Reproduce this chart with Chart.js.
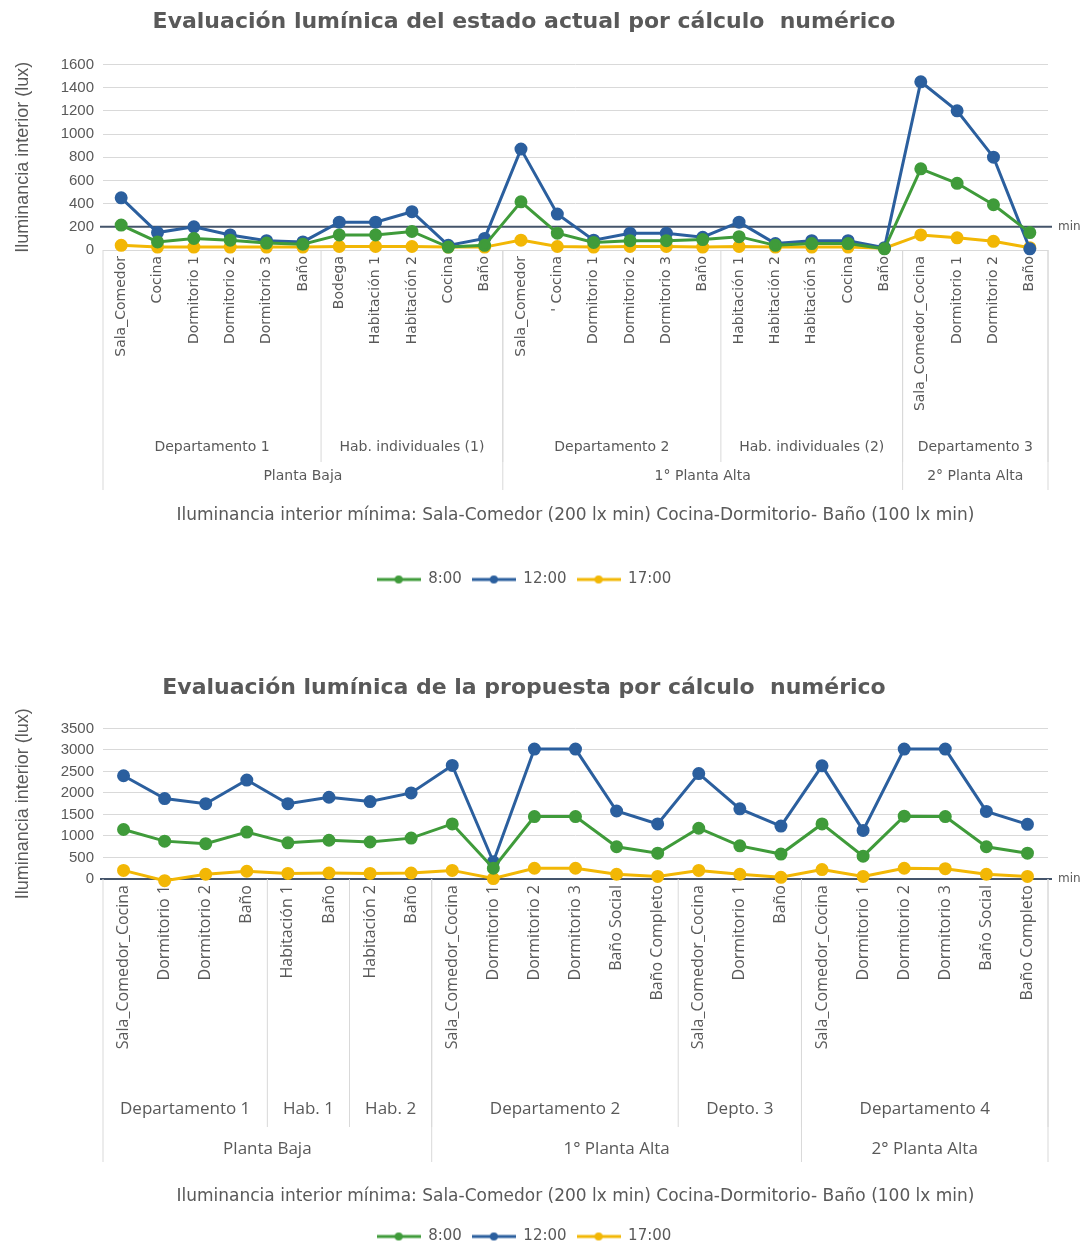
<!DOCTYPE html>
<html>
<head>
<meta charset="utf-8">
<script src="https://cdn.jsdelivr.net/npm/chart.js@4/dist/chart.umd.min.js"></script>
<style>
  body { margin: 0; background: #fff; }
  #wrap1 { position: absolute; left: 0; top: 0; width: 1082px; height: 610px; }
  #wrap2 { position: absolute; left: 0; top: 610px; width: 1082px; height: 644px; }
</style>
</head>
<body>
<div id="wrap1"><canvas id="chart-actual"></canvas></div>
<div id="wrap2"><canvas id="chart-propuesta"></canvas></div>
<script>
// ---- Grafico 1: estado actual ----
const rooms1 = ['Sala_Comedor', 'Cocina', 'Dormitorio 1', 'Dormitorio 2', 'Dormitorio 3', 'Baño',
    'Bodega', 'Habitación 1', 'Habitación 2', 'Cocina', 'Baño',
    'Sala_Comedor', '\' Cocina', 'Dormitorio 1', 'Dormitorio 2', 'Dormitorio 3', 'Baño',
    'Habitación 1', 'Habitación 2', 'Habitación 3', 'Cocina', 'Baño',
    'Sala_Comedor_Cocina', 'Dormitorio 1', 'Dormitorio 2', 'Baño'];
const depts1 = ['Departamento 1', 'Hab. individuales (1)', 'Departamento 2', 'Hab. individuales (2)', 'Departamento 3'];
const deptSpans1 = [6, 5, 6, 5, 4];
const floors1 = ['Planta Baja', '1° Planta Alta', '2° Planta Alta'];
const floorSpans1 = [11, 11, 4];
const lux8_1  = [215, 70, 100, 85, 60, 50, 130, 130, 160, 25, 40, 415, 145, 65, 80, 80, 90, 115, 40, 55, 55, 10, 700, 575, 390, 150];
const lux12_1 = [450, 150, 200, 130, 80, 70, 240, 240, 330, 40, 100, 870, 310, 85, 145, 145, 110, 240, 55, 80, 80, 20, 1450, 1200, 800, 10];
const lux17_1 = [40, 25, 25, 25, 25, 25, 30, 30, 30, 25, 25, 85, 30, 25, 30, 30, 25, 30, 25, 25, 25, 15, 130, 105, 75, 20];
const minLux1 = 200;

// ---- Grafico 2: propuesta ----
const rooms2 = ['Sala_Comedor_Cocina', 'Dormitorio 1', 'Dormitorio 2', 'Baño',
    'Habitación 1', 'Baño', 'Habitación 2', 'Baño',
    'Sala_Comedor_Cocina', 'Dormitorio 1', 'Dormitorio 2', 'Dormitorio 3', 'Baño Social', 'Baño Completo',
    'Sala_Comedor_Cocina', 'Dormitorio 1', 'Baño',
    'Sala_Comedor_Cocina', 'Dormitorio 1', 'Dormitorio 2', 'Dormitorio 3', 'Baño Social', 'Baño Completo'];
const depts2 = ['Departamento 1', 'Hab. 1', 'Hab. 2', 'Departamento 2', 'Depto. 3', 'Departamento 4'];
const deptSpans2 = [4, 2, 2, 6, 3, 6];
const floors2 = ['Planta Baja', '1° Planta Alta', '2° Planta Alta'];
const floorSpans2 = [8, 9, 6];
const lux8_2  = [1150, 880, 820, 1090, 840, 900, 860, 950, 1280, 250, 1450, 1450, 750, 600, 1180, 770, 580, 1280, 530, 1460, 1450, 750, 600];
const lux12_2 = [2400, 1870, 1750, 2300, 1750, 1900, 1800, 2000, 2640, 400, 3020, 3020, 1580, 1280, 2450, 1630, 1230, 2630, 1130, 3020, 3020, 1570, 1270];
const lux17_2 = [200, -40, 110, 180, 130, 140, 130, 140, 200, 10, 250, 250, 110, 60, 200, 110, 40, 220, 60, 250, 240, 110, 60];
const minLux2 = 0;

const seriesNames = ['8:00', '12:00', '17:00'];
const seriesColors = ['#3f9b3a', '#2b5f9e', '#f2b705'];
const textColor = '#595959';
const gridColor = '#d9d9d9';
const note = 'Iluminancia interior mínima: Sala-Comedor (200 lx min) Cocina-Dormitorio- Baño (100 lx min)';

// marcador de leyenda: linea con punto, como en Excel
function legendMarker(color) {
    const c = document.createElement('canvas');
    c.width = 44; c.height = 12;
    const g = c.getContext('2d');
    g.strokeStyle = color; g.lineWidth = 3;
    g.beginPath(); g.moveTo(0, 6); g.lineTo(44, 6); g.stroke();
    g.fillStyle = color;
    g.beginPath(); g.arc(22, 6, 4, 0, Math.PI * 2); g.fill();
    return c;
}

// lineas de minimo y etiquetas agrupadas del eje x
const groupAxisPlugin = {
    id: 'groupAxis',
    beforeDatasetsDraw(chart, args, opts) {
        const {ctx, chartArea} = chart;
        const y = chart.scales.y.getPixelForValue(opts.minValue);
        ctx.save();
        ctx.strokeStyle = '#44546a';
        ctx.lineWidth = 2;
        ctx.beginPath();
        ctx.moveTo(chartArea.left - 3, y);
        ctx.lineTo(chartArea.right + 4, y);
        ctx.stroke();
        ctx.fillStyle = textColor;
        ctx.font = '12px "DejaVu Sans"';
        ctx.textBaseline = 'middle';
        ctx.fillText('min', chartArea.right + 10, y);
        ctx.restore();
    },
    afterDraw(chart, args, opts) {
        const {ctx, chartArea} = chart;
        const x = chart.scales.x;
        const edge = i => i <= 0 ? chartArea.left :
            (i >= x.ticks.length ? chartArea.right : (x.getPixelForValue(i - 1) + x.getPixelForValue(i)) / 2);
        const bottom = chartArea.bottom;
        ctx.save();
        ctx.strokeStyle = gridColor;
        ctx.lineWidth = 1;
        ctx.fillStyle = textColor;
        ctx.textAlign = 'center';
        ctx.textBaseline = 'middle';
        ctx.font = opts.font;
        // departamentos
        let start = 0;
        opts.depts.forEach((name, k) => {
            const end = start + opts.deptSpans[k];
            ctx.beginPath();
            ctx.moveTo(edge(end), bottom);
            ctx.lineTo(edge(end), bottom + opts.deptLine);
            ctx.stroke();
            ctx.fillText(name, (edge(start) + edge(end)) / 2, bottom + opts.deptRow);
            start = end;
        });
        // plantas
        start = 0;
        ctx.beginPath();
        ctx.moveTo(edge(0), bottom);
        ctx.lineTo(edge(0), bottom + opts.floorLine);
        ctx.stroke();
        opts.floors.forEach((name, k) => {
            const end = start + opts.floorSpans[k];
            ctx.beginPath();
            ctx.moveTo(edge(end), bottom);
            ctx.lineTo(edge(end), bottom + opts.floorLine);
            ctx.stroke();
            ctx.fillText(name, (edge(start) + edge(end)) / 2, bottom + opts.floorRow);
            start = end;
        });
        ctx.restore();
    }
};

function buildChart(canvasId, cfg) {
    const datasets = [cfg.s8, cfg.s12, cfg.s17].map((data, i) => ({
        label: seriesNames[i],
        data: data,
        borderColor: seriesColors[i],
        backgroundColor: seriesColors[i],
        borderWidth: 3,
        pointRadius: 5,
        pointHoverRadius: 5,
        tension: 0,
        clip: false
    }));
    return new Chart(document.getElementById(canvasId), {
        type: 'line',
        data: { labels: cfg.rooms, datasets: datasets },
        plugins: [groupAxisPlugin],
        options: {
            responsive: true,
            maintainAspectRatio: false,
            animation: false,
            layout: { padding: { left: 0, right: 34, top: 0, bottom: cfg.padBottom } },
            plugins: {
                title: {
                    display: true,
                    text: cfg.title,
                    color: textColor,
                    font: { family: 'DejaVu Sans', size: 22, weight: 'bold' },
                    padding: { top: cfg.titleTop, bottom: cfg.titleBottom }
                },
                legend: {
                    position: 'bottom',
                    labels: {
                        color: textColor,
                        font: { family: 'DejaVu Sans', size: 15 },
                        usePointStyle: true,
                        pointStyleWidth: 44,
                        padding: 10,
                        generateLabels(chart) {
                            return chart.data.datasets.map((ds, i) => ({
                                text: ds.label,
                                fontColor: textColor,
                                pointStyle: legendMarker(ds.borderColor),
                                datasetIndex: i,
                                lineWidth: 0,
                                hidden: false
                            }));
                        }
                    }
                },
                tooltip: { enabled: false },
                groupAxis: {
                    minValue: cfg.minValue,
                    depts: cfg.depts, deptSpans: cfg.deptSpans,
                    floors: cfg.floors, floorSpans: cfg.floorSpans,
                    font: cfg.groupFont,
                    deptRow: cfg.deptRow, deptLine: cfg.deptLine,
                    floorRow: cfg.floorRow, floorLine: cfg.floorLine
                }
            },
            scales: {
                x: {
                    offset: true,
                    grid: { display: false, drawTicks: false },
                    border: { display: false },
                    ticks: {
                        autoSkip: false,
                        minRotation: 90,
                        maxRotation: 90,
                        padding: 6,
                        color: textColor,
                        font: { family: cfg.tickFamily, size: cfg.tickSize }
                    },
                    title: {
                        display: true,
                        text: note,
                        color: textColor,
                        font: { family: 'DejaVu Sans', size: 17 },
                        padding: { top: 0, bottom: cfg.notePad }
                    },
                    afterFit(scale) { scale.height = cfg.xHeight; }
                },
                y: {
                    min: 0,
                    max: cfg.yMax,
                    grid: { color: gridColor, drawTicks: false },
                    border: { display: false },
                    ticks: {
                        stepSize: cfg.yStep,
                        padding: 9,
                        color: textColor,
                        font: { family: 'Liberation Sans', size: 15 },
                        callback: v => String(v)
                    },
                    title: {
                        display: true,
                        text: 'Iluminancia interior (lux)',
                        color: textColor,
                        font: { family: 'Liberation Sans', size: 18 },
                        padding: { top: 12, bottom: 0 }
                    },
                    afterFit(scale) { scale.width = 103; }
                }
            }
        }
    });
}

buildChart('chart-actual', {
    title: 'Evaluación lumínica del estado actual por cálculo  numérico',
    rooms: rooms1, s8: lux8_1, s12: lux12_1, s17: lux17_1,
    depts: depts1, deptSpans: deptSpans1, floors: floors1, floorSpans: floorSpans1,
    minValue: minLux1, yMax: 1600, yStep: 200,
    titleTop: 9, titleBottom: 29, padBottom: 13,
    xHeight: 312, notePad: 36,
    tickFamily: 'DejaVu Sans', tickSize: 14,
    groupFont: '14px "DejaVu Sans"',
    deptRow: 197, deptLine: 212, floorRow: 226, floorLine: 240
});

buildChart('chart-propuesta', {
    title: 'Evaluación lumínica de la propuesta por cálculo  numérico',
    rooms: rooms2, s8: lux8_2, s12: lux12_2, s17: lux17_2,
    depts: depts2, deptSpans: deptSpans2, floors: floors2, floorSpans: floorSpans2,
    minValue: minLux2, yMax: 3500, yStep: 500,
    titleTop: 65, titleBottom: 27, padBottom: 0,
    xHeight: 340, notePad: 12,
    tickFamily: 'Open Sans', tickSize: 16,
    groupFont: '17px "Open Sans"',
    deptRow: 230, deptLine: 248, floorRow: 270, floorLine: 283
});
</script>
</body>
</html>
